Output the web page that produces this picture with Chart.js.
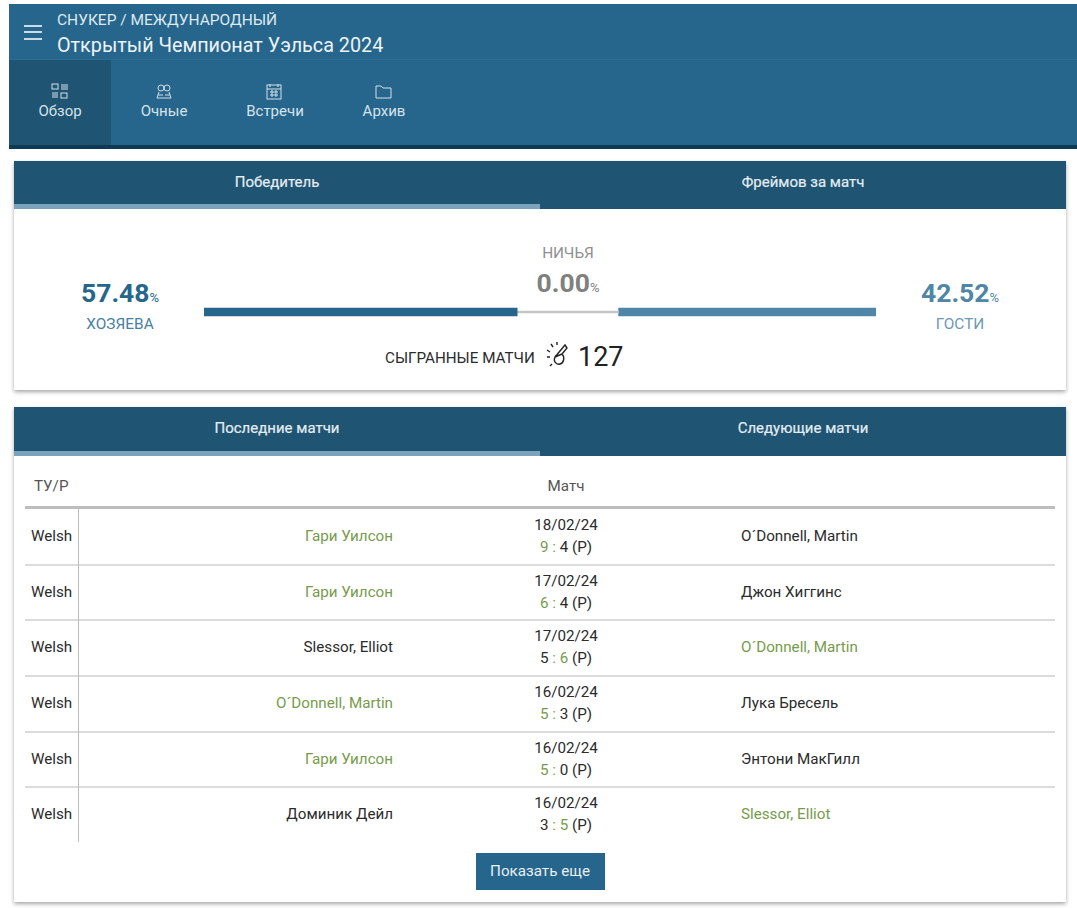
<!DOCTYPE html>
<html lang="ru">
<head>
<meta charset="utf-8">
<title>Открытый Чемпионат Уэльса 2024</title>
<script src="https://cdn.jsdelivr.net/npm/chart.js@4"></script>
<style>
html, body { margin: 0; padding: 0; background: #fff; }
body { width: 1077px; height: 908px; position: relative; overflow: hidden; font-family: Roboto, sans-serif; color: #2b2b2b; }
.box { position: absolute; }
.t { position: absolute; white-space: nowrap; line-height: 1; }
.c { transform: translateX(-50%); }
.r { transform: translateX(-100%); }
.card { position: absolute; left: 14px; width: 1052px; background: #fff; box-shadow: 0 2px 4px rgba(0,0,0,.35); }
svg { position: absolute; fill: none; stroke: #d3e0e9; stroke-width: 1; }
small { font-size: 13px; font-weight: 400; }
</style>
</head>
<body>
<!-- шапка -->
<div class="box" style="left:9px;top:4px;width:1068px;height:141px;background:#26668c"></div>
<div class="box" style="left:9px;top:59px;width:1068px;height:1px;background:#2c6d93"></div>
<div class="box" style="left:9px;top:60px;width:102px;height:85px;background:#1f5472"></div>
<div class="box" style="left:9px;top:145px;width:1068px;height:4px;background:#0e3a56"></div>
<div class="box" style="left:24px;top:25px;width:18px;height:2px;background:#c9dbe6"></div>
<div class="box" style="left:24px;top:31px;width:18px;height:2px;background:#c9dbe6"></div>
<div class="box" style="left:24px;top:38px;width:18px;height:2px;background:#c9dbe6"></div>
<div class="t" style="left:57px;top:13px;font-size:15.5px;color:#dfe9ef">СНУКЕР / МЕЖДУНАРОДНЫЙ</div>
<div class="t" style="left:57px;top:36px;font-size:19.8px;color:#eef3f6">Открытый Чемпионат Уэльса 2024</div>

<svg style="left:51px;top:83px" width="18" height="18" viewBox="0 0 18 18">
  <rect x="1" y="1" width="6" height="5"/><path d="M10 2h7M10 4h7M10 6h7M1 10h6M1 12h6M1 14h6"/><rect x="10" y="10" width="6" height="5"/>
</svg>
<svg style="left:155px;top:83px" width="18" height="18" viewBox="0 0 18 18">
  <circle cx="6" cy="5" r="3"/><circle cx="12" cy="5" r="3"/><path d="M2 15l2-6M16 15l-2-6M2 15h14M3 12h5M10 12h5"/>
</svg>
<svg style="left:266px;top:83px" width="17" height="18" viewBox="0 0 17 18">
  <rect x="1" y="2" width="14" height="14"/><path d="M4 1v3M12 1v3M1 6h14M4 9h8M4 12h8M6 7v7M10 7v7"/>
</svg>
<svg style="left:375px;top:84px" width="18" height="16" viewBox="0 0 18 16">
  <path d="M1 2h5l2 2h8v10H1z"/>
</svg>
<div class="t c" style="left:60px;top:104px;font-size:15px;color:#d6e3ea">Обзор</div>
<div class="t c" style="left:164px;top:104px;font-size:15px;color:#d6e3ea">Очные</div>
<div class="t c" style="left:275px;top:104px;font-size:15px;color:#d6e3ea">Встречи</div>
<div class="t c" style="left:384px;top:104px;font-size:15px;color:#d6e3ea">Архив</div>

<!-- блок с процентами -->
<div class="card" style="top:161px;height:229px"></div>
<div class="box" style="left:14px;top:161px;width:1052px;height:48px;background:#1f5472"></div>
<div class="box" style="left:14px;top:204px;width:526px;height:5px;background:#7ba3bb"></div>
<div class="t c" style="left:277px;top:175px;font-size:15px;color:#e4edf2;-webkit-text-stroke:.2px #e4edf2">Победитель</div>
<div class="t c" style="left:803px;top:175px;font-size:15px;color:#e4edf2;-webkit-text-stroke:.2px #e4edf2">Фреймов за матч</div>

<div class="t c" style="left:120px;top:280px;font-size:26.5px;font-weight:700;color:#26668c"><span id="homePct"></span><small>%</small></div>
<div class="t c" style="left:120px;top:317px;font-size:15.4px;color:#4a80a2">ХОЗЯЕВА</div>
<div class="t c" style="left:568px;top:246px;font-size:15.4px;color:#909090">НИЧЬЯ</div>
<div class="t c" style="left:568px;top:270px;font-size:26.5px;font-weight:700;color:#808080"><span id="drawPct"></span><small>%</small></div>
<div class="t c" style="left:960px;top:280px;font-size:26.5px;font-weight:700;color:#4f86a7"><span id="awayPct"></span><small>%</small></div>
<div class="t c" style="left:960px;top:317px;font-size:15.4px;color:#6c98b4">ГОСТИ</div>

<div class="box" style="left:204px;top:302px;width:672px;height:20px"><canvas id="splitChart"></canvas></div>

<div class="t" style="left:385px;top:351px;font-size:15.2px">СЫГРАННЫЕ МАТЧИ</div>
<svg style="left:546px;top:342px;stroke:#222;stroke-width:1.4" width="26" height="28" viewBox="0 0 26 28">
  <path d="M9 15l10-12 2 3-5 6c3 3 2 9-2 10-4 1-7-3-5-7zM9 15l7-3M1 8l3 2M5 2l2 3M11 0v3M1 15h3M4 24l2-2"/>
</svg>
<div class="t" style="left:578px;top:344px;font-size:27px;color:#222" id="played"></div>

<!-- таблица матчей -->
<div class="card" style="top:407px;height:495px"></div>
<div class="box" style="left:14px;top:407px;width:1052px;height:49px;background:#1f5472"></div>
<div class="box" style="left:14px;top:451px;width:526px;height:5px;background:#7ba3bb"></div>
<div class="t c" style="left:277px;top:421px;font-size:15px;color:#e4edf2;-webkit-text-stroke:.2px #e4edf2">Последние матчи</div>
<div class="t c" style="left:803px;top:421px;font-size:15px;color:#e4edf2;-webkit-text-stroke:.2px #e4edf2">Следующие матчи</div>
<div class="t" style="left:34px;top:479px;font-size:15.2px;color:#555">ТУ/Р</div>
<div class="t c" style="left:566px;top:479px;font-size:15.2px;color:#555">Матч</div>
<div class="box" style="left:25px;top:506px;width:1030px;height:3px;background:#bdbdbd"></div>
<div id="rows"></div>
<div class="box" style="left:78px;top:508px;width:1px;height:334px;background:#bdbdbd"></div>

<div class="box" style="left:476px;top:853px;width:129px;height:37px;background:#26668c"></div>
<div class="t c" style="left:540px;top:864px;font-size:15.2px;color:#e8f0f4">Показать еще</div>

<script>
const winPercents = ["57.48", "0.00", "42.52"];
const barLengths = [46.6, 15.1, 38.3];
const playedMatches = 127;

const tours = ["Welsh", "Welsh", "Welsh", "Welsh", "Welsh", "Welsh"];
const homeTeams = ["Гари Уилсон", "Гари Уилсон", "Slessor, Elliot", "O´Donnell, Martin", "Гари Уилсон", "Доминик Дейл"];
const awayTeams = ["O´Donnell, Martin", "Джон Хиггинс", "O´Donnell, Martin", "Лука Бресель", "Энтони МакГилл", "Slessor, Elliot"];
const matchDates = ["18/02/24", "17/02/24", "17/02/24", "16/02/24", "16/02/24", "16/02/24"];
const homeScores = [9, 6, 5, 5, 5, 3];
const awayScores = [4, 4, 6, 3, 0, 5];

document.getElementById("homePct").textContent = winPercents[0];
document.getElementById("drawPct").textContent = winPercents[1];
document.getElementById("awayPct").textContent = winPercents[2];
document.getElementById("played").textContent = playedMatches;

// Строки таблицы
const green = "#779b4c";
const rowTops = [509, 565, 620, 676, 732, 787];
let html = "";
tours.forEach((tour, i) => {
    const top = rowTops[i];
    const homeWin = homeScores[i] > awayScores[i];
    if (i > 0) {
        html += `<div class="box" style="left:25px;top:${top - 1}px;width:1030px;height:2px;background:#dcdcdc"></div>`;
    }
    html += `<div class="t" style="left:31px;top:${top + 20}px;font-size:15.2px">${tour}</div>`;
    html += `<div class="t r" style="left:393px;top:${top + 20}px;font-size:15.2px;color:${homeWin ? green : "#2b2b2b"}">${homeTeams[i]}</div>`;
    html += `<div class="t" style="left:741px;top:${top + 20}px;font-size:15.2px;color:${homeWin ? "#2b2b2b" : green}">${awayTeams[i]}</div>`;
    html += `<div class="t c" style="left:566px;top:${top + 9}px;font-size:15.2px">${matchDates[i]}</div>`;
    html += `<div class="t c" style="left:566px;top:${top + 31}px;font-size:15.2px">` +
        `<span style="color:${homeWin ? green : "#2b2b2b"}">${homeScores[i]}</span> <span style="color:${green}">:</span> ` +
        `<span style="color:${homeWin ? "#2b2b2b" : green}">${awayScores[i]}</span> (Р)</div>`;
});
document.getElementById("rows").innerHTML = html;

// Полоса: хозяева / ничья / гости
new Chart(document.getElementById("splitChart"), {
    type: "bar",
    data: {
        labels: ["Победитель"],
        datasets: [
            { label: "Хозяева", data: [barLengths[0]], backgroundColor: "#26668c", barThickness: 8 },
            { label: "Ничья", data: [barLengths[1]], backgroundColor: "#c4c4c4", barThickness: 2 },
            { label: "Гости", data: [barLengths[2]], backgroundColor: "#4f86a7", barThickness: 8 }
        ]
    },
    options: {
        indexAxis: "y",
        responsive: true,
        maintainAspectRatio: false,
        animation: false,
        layout: { padding: 0 },
        plugins: { legend: { display: false }, tooltip: { enabled: false } },
        scales: {
            x: { stacked: true, display: false, min: 0, max: 100 },
            y: { stacked: true, display: false }
        }
    }
});
</script>
</body>
</html>
